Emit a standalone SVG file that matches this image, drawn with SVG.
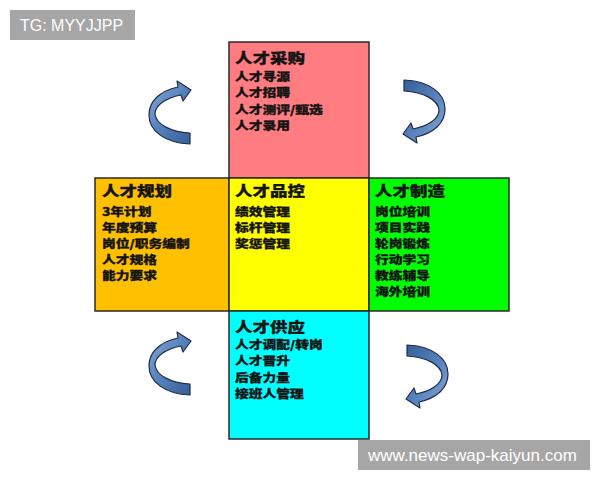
<svg xmlns="http://www.w3.org/2000/svg" width="600" height="480" viewBox="0 0 600 480">
<style>
.box{stroke:#2a2a2a;stroke-width:1.5}
.t{font-family:"Noto Sans CJK SC","Noto Sans",sans-serif;font-weight:900;fill:#141414;stroke:#141414;stroke-width:0.3;font-size:11px}
.h{font-size:14px}
.wm{font-family:"Liberation Sans",Arial,sans-serif;fill:#ffffff}
.arr{fill:url(#ag);stroke:#1e2d4a;stroke-width:1.2;stroke-linejoin:round}
</style>
<defs>
<linearGradient id="ag" x1="0" y1="0" x2="1" y2="1">
<stop offset="0" stop-color="#8aaad6"/>
<stop offset="0.5" stop-color="#5580bb"/>
<stop offset="1" stop-color="#345f98"/>
</linearGradient>
<path id="carrow" d="M190,144 C165,143 149,131 149,115 C149,101 160,91 178,87 L177,81 L191,90 L183,101 L181,95 C166,98 155,105 155,114 C156,124 170,132 190,133 Z"/>
</defs>
<rect width="600" height="480" fill="#ffffff"/>

<g id="wm-top">
<rect x="10" y="10" width="125" height="30" fill="#a6a6a6"/>
<text class="wm" x="20" y="31" font-size="16">TG: MYYJJPP</text>
</g>

<g id="node-caigou">
<rect class="box" x="229" y="42" width="140" height="136" fill="#ff7c80"/>
<g transform="translate(235,0) scale(1.25,1)">
<text class="t h" x="0" y="63.3">人才采购</text>
<text class="t" x="0" y="81.2">人才寻源</text>
<text class="t" x="0" y="97.4">人才招聘</text>
<text class="t" x="0" y="113.6">人才测评/甄选</text>
<text class="t" x="0" y="129.8">人才录用</text>
</g>
</g>

<g id="node-guihua">
<rect class="box" x="95" y="178" width="134" height="133" fill="#ffc000"/>
<g transform="translate(102,0) scale(1.25,1)">
<text class="t h" x="0" y="196.3">人才规划</text>
<text class="t" x="0" y="216.2">3年计划</text>
<text class="t" x="0" y="232.2">年度预算</text>
<text class="t" x="0" y="248.2">岗位/职务编制</text>
<text class="t" x="0" y="264.2">人才规格</text>
<text class="t" x="0" y="280.2">能力要求</text>
</g>
</g>

<g id="node-pinkong">
<rect class="box" x="229" y="178" width="140" height="133" fill="#ffff00"/>
<g transform="translate(235,0) scale(1.25,1)">
<text class="t h" x="0" y="196.3">人才品控</text>
<text class="t" x="0" y="216.2">绩效管理</text>
<text class="t" x="0" y="232.2">标杆管理</text>
<text class="t" x="0" y="248.2">奖惩管理</text>
</g>
</g>

<g id="node-zhizao">
<rect class="box" x="369" y="178" width="140" height="133" fill="#00ff00"/>
<g transform="translate(375,0) scale(1.25,1)">
<text class="t h" x="0" y="196.3">人才制造</text>
<text class="t" x="0" y="216.2">岗位培训</text>
<text class="t" x="0" y="232.2">项目实践</text>
<text class="t" x="0" y="248.2">轮岗锻炼</text>
<text class="t" x="0" y="264.2">行动学习</text>
<text class="t" x="0" y="280.2">教练辅导</text>
<text class="t" x="0" y="296.2">海外培训</text>
</g>
</g>

<g id="node-gongying">
<rect class="box" x="229" y="311" width="140" height="128" fill="#00ffff"/>
<g transform="translate(235,0) scale(1.25,1)">
<text class="t h" x="0" y="332">人才供应</text>
<text class="t" x="0" y="349.2">人才调配/转岗</text>
<text class="t" x="0" y="365.4">人才晋升</text>
<text class="t" x="0" y="381.6">后备力量</text>
<text class="t" x="0" y="397.8">接班人管理</text>
</g>
</g>

<g id="connectors">
<use href="#carrow" class="arr"/>
<use href="#carrow" class="arr" transform="translate(0,251)"/>
<use href="#carrow" class="arr" transform="rotate(180,297,112)"/>
<use href="#carrow" class="arr" transform="rotate(180,298.5,244.5)"/>
</g>

<g id="wm-bottom">
<rect x="358" y="440" width="232" height="30" fill="#a6a6a6"/>
<text class="wm" x="368" y="461" font-size="17">www.news-wap-kaiyun.com</text>
</g>
</svg>
